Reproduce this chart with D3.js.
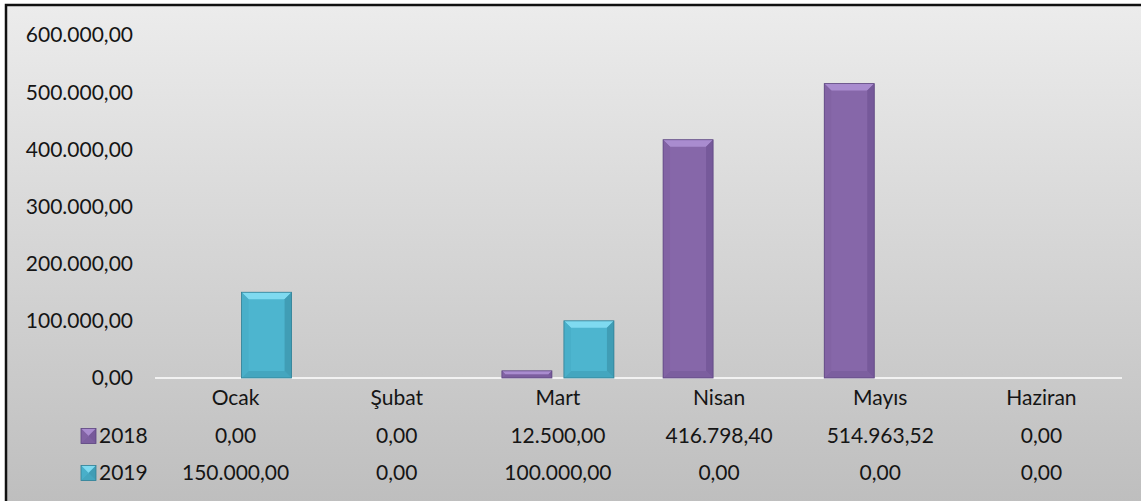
<!DOCTYPE html>
<html>
<head>
<meta charset="utf-8">
<script src="https://cdn.jsdelivr.net/npm/d3@7"></script>
<style>
  html, body { margin: 0; padding: 0; background: #fff; }
  svg { display: block; }
  text { font-family: Lato, "Open Sans", sans-serif; fill: #151515; }
</style>
</head>
<body>
<svg id="chart" width="1141" height="501"></svg>
<script>
// Data
const months = ["Ocak", "Şubat", "Mart", "Nisan", "Mayıs", "Haziran"];
const seriesNames = ["2018", "2019"];
const values2018 = [0, 0, 12500, 416798.40, 514963.52, 0];
const values2019 = [150000, 0, 100000, 0, 0, 0];
const yTicks = [0, 100000, 200000, 300000, 400000, 500000, 600000];

const width = 1141, height = 501;
const svg = d3.select("#chart");
const plot = { left: 155, right: 1122, top: 35, bottom: 378 };
const fontSize = 21;

const trLocale = d3.formatLocale({ decimal: ",", thousands: ".", grouping: [3], currency: ["", " TL"] });
const fmt = trLocale.format(",.2f");

const colors = {
  "2018": { base: "#8667a9", light: "#a98ccf", side: "#8263a4", dark: "#76599a", bottom: "#7c5f9f", stroke: "#5e4880" },
  "2019": { base: "#4db5cf", light: "#7fdaf0", side: "#49afc9", dark: "#409db5", bottom: "#44a6bf", stroke: "#327f94" }
};

// Background
const defs = svg.append("defs");
const grad = defs.append("linearGradient")
  .attr("id", "bg").attr("x1", 0).attr("y1", 0).attr("x2", 0).attr("y2", 1);
grad.append("stop").attr("offset", "0%").attr("stop-color", "#ececec");
grad.append("stop").attr("offset", "100%").attr("stop-color", "#bcbcbc");

svg.append("rect")
  .attr("x", 6).attr("y", 5)
  .attr("width", width + 20).attr("height", height + 20)
  .attr("fill", "url(#bg)")
  .attr("stroke", "#111").attr("stroke-width", 2.5);

// Scales
const x0 = d3.scaleBand().domain(months).range([plot.left, plot.right]).padding(0);
const y = d3.scaleLinear().domain([0, 600000]).range([plot.bottom, plot.top]);
const barW = 50, gap = 12;

// Y axis labels
svg.append("g").selectAll("text")
  .data(yTicks)
  .enter().append("text")
  .attr("x", 133)
  .attr("y", d => y(d))
  .attr("dy", "0.35em")
  .attr("text-anchor", "end")
  .attr("font-size", fontSize)
  .text(d => fmt(d));

// Baseline
svg.append("line")
  .attr("x1", plot.left).attr("x2", plot.right)
  .attr("y1", y(0)).attr("y2", y(0))
  .attr("stroke", "#f2f2f2").attr("stroke-width", 2);

// Bevelled bar
function bevelBar(g, bx, by, bw, bh, c) {
  if (bh <= 0) return;
  const b = Math.min(7, bh / 2, bw / 2);
  const x1 = bx + bw, y1 = by + bh;
  g.append("rect").attr("x", bx).attr("y", by).attr("width", bw).attr("height", bh).attr("fill", c.base);
  const poly = (pts, fill) => g.append("polygon").attr("points", pts.map(p => p.join(",")).join(" ")).attr("fill", fill);
  poly([[bx, by], [x1, by], [x1 - b, by + b], [bx + b, by + b]], c.light);
  poly([[bx, y1], [x1, y1], [x1 - b, y1 - b], [bx + b, y1 - b]], c.bottom);
  poly([[bx, by], [bx + b, by + b], [bx + b, y1 - b], [bx, y1]], c.side);
  poly([[x1, by], [x1 - b, by + b], [x1 - b, y1 - b], [x1, y1]], c.dark);
  g.append("rect").attr("x", bx).attr("y", by).attr("width", bw).attr("height", bh)
    .attr("fill", "none").attr("stroke", c.stroke).attr("stroke-width", 0.8);
}

const bars = svg.append("g");
const allSeries = [values2018, values2019];
months.forEach((m, i) => {
  const cx = x0(m) + x0.bandwidth() / 2;
  allSeries.forEach((vals, s) => {
    const v = vals[i];
    const bx = s === 0 ? cx - gap / 2 - barW : cx + gap / 2;
    bevelBar(bars, bx, y(v), barW, y(0) - y(v), colors[seriesNames[s]]);
  });
});

// Data table
const rowY = [398, 436, 473];
const table = svg.append("g");
table.selectAll("text.cat")
  .data(months)
  .enter().append("text")
  .attr("class", "cat")
  .attr("x", d => x0(d) + x0.bandwidth() / 2)
  .attr("y", rowY[0])
  .attr("dy", "0.35em")
  .attr("text-anchor", "middle")
  .attr("font-size", fontSize)
  .text(d => d);

allSeries.forEach((vals, s) => {
  const ry = rowY[s + 1];
  bevelBar(table, 81, ry - 7.5, 15, 15, colors[seriesNames[s]]);
  table.append("text")
    .attr("x", 99).attr("y", ry).attr("dy", "0.35em")
    .attr("font-size", fontSize)
    .text(seriesNames[s]);
  table.selectAll("text.v" + s)
    .data(vals)
    .enter().append("text")
    .attr("class", "v" + s)
    .attr("x", (d, i) => x0(months[i]) + x0.bandwidth() / 2)
    .attr("y", ry)
    .attr("dy", "0.35em")
    .attr("text-anchor", "middle")
    .attr("font-size", fontSize)
    .text(d => fmt(d));
});
</script>
</body>
</html>
